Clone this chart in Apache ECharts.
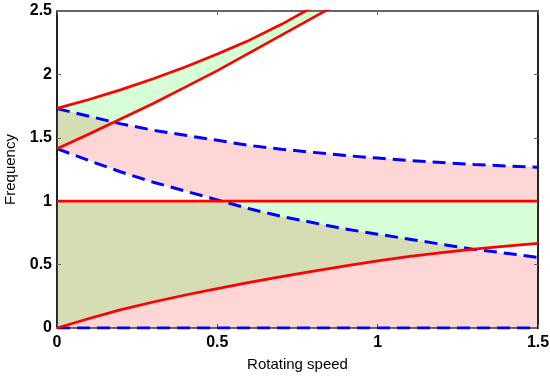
<!DOCTYPE html>
<html>
<head>
<meta charset="utf-8">
<script src="https://cdn.jsdelivr.net/npm/echarts@6/dist/echarts.min.js"></script>
<style>
  html, body { margin: 0; padding: 0; background: #fff; }
  #chart { width: 550px; height: 379px; }
</style>
</head>
<body>
<div id="chart"></div>
<script>
// ---- Data ----
const X = [0, 0.1, 0.2, 0.3, 0.4, 0.5, 0.6, 0.7, 0.8, 0.9, 1.0, 1.1, 1.2, 1.3, 1.4, 1.5];
const X_UPPER = [0, 0.1, 0.2, 0.3, 0.4, 0.5, 0.6, 0.7, 0.8, 0.9];
// red solid curves
const redTop = [1.732, 1.802, 1.88, 1.965, 2.058, 2.16, 2.27, 2.395, 2.535, 2.69];
const redMid = [1.414, 1.53, 1.65, 1.77, 1.90, 2.03, 2.17, 2.31, 2.45, 2.59];
const redOne = [1, 1, 1, 1, 1, 1, 1, 1, 1, 1, 1, 1, 1, 1, 1, 1];
const redLow = [0, 0.075, 0.145, 0.205, 0.26, 0.31, 0.36, 0.405, 0.448, 0.49, 0.53, 0.565, 0.595, 0.622, 0.646, 0.668];
// blue dashed curves
const blueTop = [1.73, 1.67, 1.61, 1.56, 1.52, 1.48, 1.44, 1.41, 1.385, 1.36, 1.34, 1.32, 1.305, 1.29, 1.278, 1.267];
const blueMid = [1.414, 1.32, 1.23, 1.15, 1.08, 1.01, 0.94, 0.88, 0.83, 0.78, 0.74, 0.70, 0.66, 0.62, 0.59, 0.557];
const blueZero = [0, 0, 0, 0, 0, 0, 0, 0, 0, 0, 0, 0, 0, 0, 0, 0];
// axis ticks
const xTicks = [0, 0.5, 1, 1.5];
const yTicks = [0, 0.5, 1, 1.5, 2, 2.5];

const PINK = 'rgba(255,0,0,0.16)';
const GREEN = 'rgba(0,255,0,0.16)';
const FONT = 'Liberation Sans, Arial, sans-serif';

function pts(xs, ys) { return xs.map((x, i) => [x, ys[i]]); }

// pointwise min/max of two piecewise-linear curves with crossing points inserted
function combine(xs, a, b, fn) {
  const out = [];
  for (let i = 0; i < xs.length; i++) {
    out.push([xs[i], fn(a[i], b[i])]);
    if (i < xs.length - 1) {
      const d0 = a[i] - b[i], d1 = a[i + 1] - b[i + 1];
      if (d0 * d1 < 0) {
        const t = d0 / (d0 - d1);
        out.push([xs[i] + t * (xs[i + 1] - xs[i]), a[i] + t * (a[i + 1] - a[i])]);
      }
    }
  }
  return out;
}

function band(lower, upper, color, z) {
  return {
    type: 'custom',
    z: z,
    clip: true,
    silent: true,
    data: [0],
    renderItem: function (params, api) {
      const p = lower.map(q => api.coord(q)).concat(upper.slice().reverse().map(q => api.coord(q)));
      const cs = params.coordSys;
      return {
        type: 'group',
        clipPath: { type: 'rect', shape: { x: cs.x, y: cs.y, width: cs.width, height: cs.height } },
        children: [{ type: 'polygon', shape: { points: p }, style: { fill: color, stroke: null } }]
      };
    }
  };
}

function lineSeries(xs, ys, color, dashed) {
  return {
    type: 'line',
    data: pts(xs, ys),
    showSymbol: false,
    symbol: 'none',
    z: 5,
    silent: true,
    clip: true,
    lineStyle: dashed
      ? { color: color, width: 3, type: [13, 7] }
      : { color: color, width: 2.7 }
  };
}

const series = [
  // pink regions
  band(pts(X, blueZero), combine(X, redOne, blueMid, Math.min), PINK, 1),
  band(combine(X, redOne, blueMid, Math.max), pts(X, blueTop), PINK, 1),
  // green regions
  band(pts(X, redLow), pts(X, redOne), GREEN, 2),
  band(pts(X_UPPER, redMid), pts(X_UPPER, redTop), GREEN, 2),
  // lines
  lineSeries(X, blueTop, '#0000ff', true),
  lineSeries(X, blueMid, '#0000ff', true),
  lineSeries(X, blueZero, '#0000ff', true),
  lineSeries(X_UPPER, redTop, '#ff0000', false),
  lineSeries(X_UPPER, redMid, '#ff0000', false),
  lineSeries(X, redOne, '#ff0000', false),
  lineSeries(X, redLow, '#ff0000', false)
];

const chart = echarts.init(document.getElementById('chart'), null, { renderer: 'canvas' });
chart.setOption({
  animation: false,
  backgroundColor: '#fff',
  grid: { left: 57, right: 12, top: 11, bottom: 51, containLabel: false, outerBoundsMode: 'none' },
  xAxis: [{
    type: 'value', position: 'bottom',
    min: xTicks[0], max: xTicks[xTicks.length - 1], interval: 0.5,
    axisLine: { show: true, onZero: false, lineStyle: { color: '#666', width: 2 } },
    axisTick: { show: true, inside: true, length: 4, lineStyle: { color: '#666', width: 1 } },
    splitLine: { show: false },
    axisLabel: { color: '#000', fontSize: 16, fontWeight: 'bold', fontFamily: FONT, margin: 7,
      formatter: v => String(v) },
    name: 'Rotating speed', nameLocation: 'middle', nameGap: 29,
    nameTextStyle: { color: '#000', fontSize: 15, fontFamily: FONT }
  }, {
    type: 'value', position: 'top',
    min: xTicks[0], max: xTicks[xTicks.length - 1], interval: 0.5,
    axisLine: { show: true, onZero: false, lineStyle: { color: '#666', width: 2 } },
    axisTick: { show: true, inside: true, length: 4, lineStyle: { color: '#666', width: 1 } },
    splitLine: { show: false },
    axisLabel: { show: false }
  }],
  yAxis: [{
    type: 'value', position: 'left',
    min: yTicks[0], max: yTicks[yTicks.length - 1], interval: 0.5,
    axisLine: { show: true, onZero: false, lineStyle: { color: '#222', width: 2 } },
    axisTick: { show: true, inside: true, length: 4, lineStyle: { color: '#666', width: 1 } },
    splitLine: { show: false },
    axisLabel: { color: '#000', fontSize: 16, fontWeight: 'bold', fontFamily: FONT, margin: 5,
      formatter: v => String(v) },
    name: 'Frequency', nameLocation: 'middle', nameGap: 39,
    nameTextStyle: { color: '#000', fontSize: 15, fontFamily: FONT }
  }, {
    type: 'value', position: 'right',
    min: yTicks[0], max: yTicks[yTicks.length - 1], interval: 0.5,
    axisLine: { show: true, onZero: false, lineStyle: { color: '#222', width: 2 } },
    axisTick: { show: true, inside: true, length: 4, lineStyle: { color: '#666', width: 1 } },
    splitLine: { show: false },
    axisLabel: { show: false }
  }],
  series: series
});
</script>
</body>
</html>
